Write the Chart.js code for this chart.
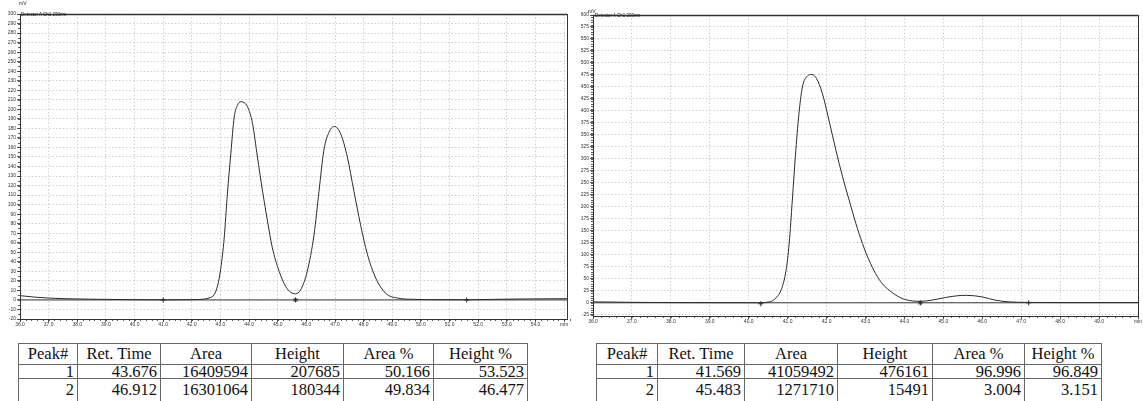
<!DOCTYPE html>
<html>
<head>
<meta charset="utf-8">
<script src="https://cdn.jsdelivr.net/npm/chart.js@4/dist/chart.umd.min.js"></script>
<style>
    body { margin: 0; background: #fff; width: 1143px; height: 401px; overflow: hidden; position: relative; }
    canvas { position: absolute; top: 0; }
    .lbl { position: absolute; font-family: 'Liberation Sans', Arial, sans-serif; color: #222; white-space: nowrap; line-height: 1; }
    .peaks { position: absolute; top: 343px; border-collapse: collapse; table-layout: fixed;
             font-family: "Liberation Serif", "DejaVu Serif", "Times New Roman", Times, serif; font-size: 16.5px; color: #111; }
    .peaks th, .peaks td { font-family: inherit; border: 1px solid #666; padding: 0 3px; white-space: nowrap; overflow: hidden; }
    .peaks th { font-weight: normal; text-align: center; height: 20px; line-height: 20px; }
    .peaks td { text-align: right; height: 13px; line-height: 13px; vertical-align: bottom; }
    .peaks tr.last td { height: 22px; vertical-align: top; padding-top: 4px; line-height: 14px; }
</style>
</head>
<body>

<canvas id="leftChart" width="575" height="332" style="left:0"></canvas>
<canvas id="rightChart" width="568" height="332" style="left:575px"></canvas>

<div class="lbl" style="left:19px; top:1px; font-size:5px;">mV</div>
<div class="lbl" style="left:21px; top:13px; font-size:4.5px;">Detector A Ch1 230nm</div>
<div class="lbl" style="left:588px; top:9px; font-size:5px;">mV</div>
<div class="lbl" style="left:595px; top:14px; font-size:4.5px;">Detector A Ch1 230nm</div>

<table class="peaks" id="leftTable" style="left:18px"></table>
<table class="peaks" id="rightTable" style="left:596px"></table>

<script>
// Left run: signal (mV) (min)
const leftTime = [36.0, 36.5, 37.0, 37.5, 38.0, 39.0, 40.0, 41.0, 42.0, 42.4, 42.6, 42.78, 42.9,
    43.01, 43.13, 43.24, 43.36, 43.48, 43.59, 43.71, 43.82, 43.94, 44.12, 44.29, 44.47, 44.64,
    44.81, 45.05, 45.28, 45.45, 45.62, 45.80, 46.03, 46.27, 46.44, 46.61, 46.79, 46.98, 47.20,
    47.43, 47.66, 47.89, 48.13, 48.42, 48.77, 49.17, 49.8, 50.5, 51.6, 52.5, 53.5, 55.1];
const leftSignal = [4.5, 3.0, 2.0, 1.4, 1.0, 0.6, 0.3, 0.1, 0.3, 0.8, 2.0, 5.5, 15,
    33, 65, 111, 153, 192, 204, 208, 207, 203, 185, 150, 114, 83,
    55, 30, 14, 8, 6.5, 10.7, 30, 69, 114, 157, 176, 182, 174,
    150, 114, 79, 48, 23, 7, 2, 0.6, 0.3, 0.2, 0.6, 1.0, 1.3];
const leftBaseTime = [36.0, 55.1];
const leftBaseSignal = [0, 0];
const leftMarkTime = [41.0, 45.62, 51.6];
const leftMarkSignal = [0, 0, 0];
const leftMarkStyle = ['cross', 'star', 'cross'];
const leftXTicks = [36, 37, 38, 39, 40, 41, 42, 43, 44, 45, 46, 47, 48, 49, 50, 51, 52, 53, 54, 55];
const leftYTicks = [-20, -10, 0, 10, 20, 30, 40, 50, 60, 70, 80, 90, 100, 110, 120, 130, 140, 150,
    160, 170, 180, 190, 200, 210, 220, 230, 240, 250, 260, 270, 280, 290, 300];

// Right run
const rightTime = [36.0, 36.5, 37.0, 38.0, 39.0, 40.0, 40.31, 40.5, 40.61, 40.72, 40.83, 40.96,
    41.04, 41.12, 41.21, 41.30, 41.38, 41.51, 41.62, 41.74, 41.89, 42.06, 42.24, 42.41, 42.58,
    42.75, 42.92, 43.09, 43.26, 43.43, 43.69, 43.94, 44.20, 44.41, 44.71, 45.05, 45.40, 45.60,
    45.99, 46.33, 46.68, 47.19, 48.0, 49.0, 50.0];
const rightSignal = [2.0, 1.5, 1.0, 0.5, 0.3, 0.2, 0.2, 1.5, 4, 12, 26, 68,
    124, 214, 318, 402, 450, 473, 476, 468, 437, 381, 318, 263, 214,
    166, 124, 89, 61, 40, 21, 9, 4, 3, 5.6, 11, 15, 15.5,
    12.5, 5.6, 2, 0.8, 0.5, 0.5, 0.5];
const rightBaseTime = [36.0, 50.0];
const rightBaseSignal = [0, 0];
const rightMarkTime = [40.31, 44.41, 47.19];
const rightMarkSignal = [-2, 0, 0];
const rightMarkStyle = ['cross', 'star', 'cross'];
const rightXTicks = [36, 37, 38, 39, 40, 41, 42, 43, 44, 45, 46, 47, 48, 49, 50];
const rightYTicks = [-25, 0, 25, 50, 75, 100, 125, 150, 175, 200, 225, 250, 275, 300, 325, 350,
    375, 400, 425, 450, 475, 500, 525, 550, 575, 600];

// Peak tables
const tableHeader = ['Peak#', 'Ret. Time', 'Area', 'Height', 'Area %', 'Height %'];
const leftPeaks = [
    ['1', '43.676', '16409594', '207685', '50.166', '53.523'],
    ['2', '46.912', '16301064', '180344', '49.834', '46.477']
];
const rightPeaks = [
    ['1', '41.569', '41059492', '476161', '96.996', '96.849'],
    ['2', '45.483', '1271710', '15491', '3.004', '3.151']
];

// Frame round the plot plus minor ticks on both axes
const framePlugin = {
    id: 'frame',
    afterDraw(chart, args, opts) {
        const { ctx, chartArea: a, scales: { x, y } } = chart;
        ctx.save();
        ctx.strokeStyle = '#333';
        ctx.lineWidth = 1;
        ctx.strokeRect(a.left + 0.5, a.top + 0.5, a.right - a.left, a.bottom - a.top);
        ctx.lineWidth = 1.6;
        ctx.beginPath();
        ctx.moveTo(a.left, a.top + 0.5);
        ctx.lineTo(a.right, a.top + 0.5);
        ctx.stroke();

        ctx.lineWidth = 0.8;
        ctx.beginPath();
        const nx = Math.round((x.max - x.min) / opts.xMinor);
        for (let i = 0; i <= nx; i++) {
            const px = Math.round(x.getPixelForValue(x.min + i * opts.xMinor)) + 0.5;
            ctx.moveTo(px, a.bottom);
            ctx.lineTo(px, a.bottom + 2);
        }
        const y0 = Math.ceil(y.min / opts.yMinor);
        const y1 = Math.floor(y.max / opts.yMinor);
        for (let i = y0; i <= y1; i++) {
            const py = Math.round(y.getPixelForValue(i * opts.yMinor)) + 0.5;
            ctx.moveTo(a.left - 2, py);
            ctx.lineTo(a.left, py);
        }
        ctx.stroke();
        ctx.restore();
    }
};

const tickFont = { family: "'Liberation Sans', Arial, sans-serif", size: 5 };

function toPoints(xs, ys) {
    return xs.map((t, i) => ({ x: t, y: ys[i] }));
}

function buildChart(canvasId, spec) {
    const ctx = document.getElementById(canvasId);
    const lastTick = spec.xTicks[spec.xTicks.length - 1];
    return new Chart(ctx, {
        type: 'line',
        data: {
            datasets: [
                {
                    data: toPoints(spec.time, spec.signal),
                    borderColor: '#2b2b2b',
                    borderWidth: 1,
                    pointRadius: 0,
                    cubicInterpolationMode: 'monotone'
                },
                {
                    data: toPoints(spec.baseTime, spec.baseSignal),
                    borderColor: '#3a3a3a',
                    borderWidth: 1,
                    pointRadius: 0
                },
                {
                    type: 'scatter',
                    data: toPoints(spec.markTime, spec.markSignal),
                    pointStyle: spec.markStyle,
                    pointRadius: 2.5,
                    borderColor: '#222',
                    borderWidth: 1,
                    backgroundColor: 'transparent'
                }
            ]
        },
        options: {
            responsive: false,
            animation: false,
            layout: { padding: spec.padding },
            plugins: {
                legend: { display: false },
                tooltip: { enabled: false },
                frame: { xMinor: 0.2, yMinor: spec.yMinor }
            },
            scales: {
                x: {
                    type: 'linear',
                    min: spec.xTicks[0],
                    max: spec.xMax,
                    afterBuildTicks: s => { s.ticks = spec.xTicks.map(v => ({ value: v })); },
                    afterFit: s => { s.height = spec.xAxisHeight; },
                    grid: { color: '#c4c4c4', lineWidth: 0.8, tickColor: '#333', tickLength: 3 },
                    border: { color: '#333', dash: [1.5, 2] },
                    ticks: {
                        font: tickFont, color: '#333', padding: 0, autoSkip: false, maxRotation: 0,
                        callback: v => (v === lastTick ? 'min' : v.toFixed(1))
                    }
                },
                y: {
                    min: spec.yMin,
                    max: spec.yMax,
                    afterBuildTicks: s => { s.ticks = spec.yTicks.map(v => ({ value: v })); },
                    afterFit: s => { s.width = spec.yAxisWidth; },
                    grid: { color: '#c4c4c4', lineWidth: 0.8, tickColor: '#333', tickLength: 3 },
                    border: { color: '#333', dash: [1.5, 2] },
                    ticks: { font: tickFont, color: '#333', padding: 1, autoSkip: false }
                }
            }
        },
        plugins: [framePlugin]
    });
}

function renderTable(tableId, rows, cols) {
    const table = document.getElementById(tableId);
    const head = document.createElement('tr');
    tableHeader.forEach((text, i) => {
        const th = document.createElement('th');
        th.textContent = text;
        th.style.width = cols[i] - 7 + 'px';
        head.appendChild(th);
    });
    table.appendChild(head);
    rows.forEach((row, r) => {
        const tr = document.createElement('tr');
        if (r === rows.length - 1) tr.className = 'last';
        row.forEach(value => {
            const td = document.createElement('td');
            td.textContent = value;
            tr.appendChild(td);
        });
        table.appendChild(tr);
    });
}

// column widths (px) of the two tables
const leftCols = [59, 83, 91, 92, 90, 94];
const rightCols = [61, 87, 93, 95, 92, 77];

buildChart('leftChart', {
    time: leftTime, signal: leftSignal,
    baseTime: leftBaseTime, baseSignal: leftBaseSignal,
    markTime: leftMarkTime, markSignal: leftMarkSignal, markStyle: leftMarkStyle,
    xTicks: leftXTicks, yTicks: leftYTicks,
    xMax: 55.1, yMin: -20, yMax: 300, yMinor: 5,
    padding: { top: 14, right: 8, left: 0, bottom: 0 },
    xAxisHeight: 13, yAxisWidth: 20
});

buildChart('rightChart', {
    time: rightTime, signal: rightSignal,
    baseTime: rightBaseTime, baseSignal: rightBaseSignal,
    markTime: rightMarkTime, markSignal: rightMarkSignal, markStyle: rightMarkStyle,
    xTicks: rightXTicks, yTicks: rightYTicks,
    xMax: 50.0, yMin: -27.5, yMax: 600, yMinor: 5,
    padding: { top: 15, right: 3, left: 0, bottom: 0 },
    xAxisHeight: 16, yAxisWidth: 18
});

renderTable('leftTable', leftPeaks, leftCols);
renderTable('rightTable', rightPeaks, rightCols);
</script>
</body>
</html>
